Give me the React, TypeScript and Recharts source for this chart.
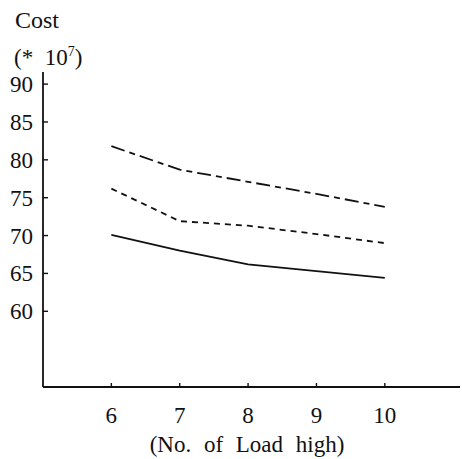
import React from "react";
import { LineChart, Line, XAxis, YAxis } from "recharts";

const loads = [6, 7, 8, 9, 10];
const upperCost = [81.8, 78.7, 77.1, 75.5, 73.8];
const middleCost = [76.2, 71.9, 71.3, 70.2, 69.0];
const lowerCost = [70.1, 68.0, 66.2, 65.3, 64.4];
const yTicks = [60, 65, 70, 75, 80, 85, 90];
const xTicks = [6, 7, 8, 9, 10];

const data = loads.map((x, i) => ({
  x,
  upper: upperCost[i],
  middle: middleCost[i],
  lower: lowerCost[i],
}));

const FONT = "'Liberation Serif', 'DejaVu Serif', serif";
const INK = "#111";

const YTick = (props: any) => {
  const { x, y, payload } = props;
  return (
    <g>
      <line x1={x} y1={y} x2={x + 5} y2={y} stroke={INK} strokeWidth={1.4} />
      <text x={x - 10} y={y + 8} textAnchor="end" fontFamily={FONT} fontSize={23} fill={INK}>
        {payload.value}
      </text>
    </g>
  );
};

const XTick = (props: any) => {
  const { x, y, payload } = props;
  return (
    <g>
      <line x1={x} y1={y} x2={x} y2={y - 4} stroke={INK} strokeWidth={1.4} />
      <text x={x} y={y + 36} textAnchor="middle" fontFamily={FONT} fontSize={23} fill={INK}>
        {payload.value}
      </text>
    </g>
  );
};

export default function App() {
  return (
    <div style={{ position: "absolute", left: 0, top: 0, width: 462, height: 459, background: "#fff" }}>
      <LineChart width={462} height={459} data={data} margin={{ top: 72, right: 2, bottom: 0, left: 0 }}>
        <XAxis
          dataKey="x"
          type="number"
          domain={[5, 11.1]}
          ticks={xTicks}
          allowDataOverflow
          height={72}
          axisLine={{ stroke: INK, strokeWidth: 1.8 }}
          tickLine={false}
          tickSize={0}
          tickMargin={0}
          tick={<XTick />}
          interval={0}
        />
        <YAxis
          type="number"
          domain={[50, 91.6]}
          ticks={yTicks}
          allowDataOverflow
          width={43}
          axisLine={{ stroke: INK, strokeWidth: 1.8 }}
          tickLine={false}
          tickSize={0}
          tickMargin={0}
          tick={<YTick />}
          interval={0}
        />
        <Line dataKey="upper" stroke={INK} strokeWidth={1.8} strokeDasharray="14 5 6 5" dot={false} isAnimationActive={false} />
        <Line dataKey="middle" stroke={INK} strokeWidth={1.8} strokeDasharray="6 5" dot={false} isAnimationActive={false} />
        <Line dataKey="lower" stroke={INK} strokeWidth={1.8} dot={false} isAnimationActive={false} />
        <text x={15} y={28} fontFamily={FONT} fontSize={24} fill={INK}>Cost</text>
        <text x={14} y={65} fontFamily={FONT} fontSize={23} fill={INK} style={{ whiteSpace: "pre" }}>
          {"(*  10"}<tspan dy={-9} fontSize={14}>7</tspan><tspan dy={9}>)</tspan>
        </text>
        <text x={247} y={452} textAnchor="middle" fontFamily={FONT} fontSize={23} fill={INK} wordSpacing={7}>
          (No. of Load high)
        </text>
      </LineChart>
    </div>
  );
}
